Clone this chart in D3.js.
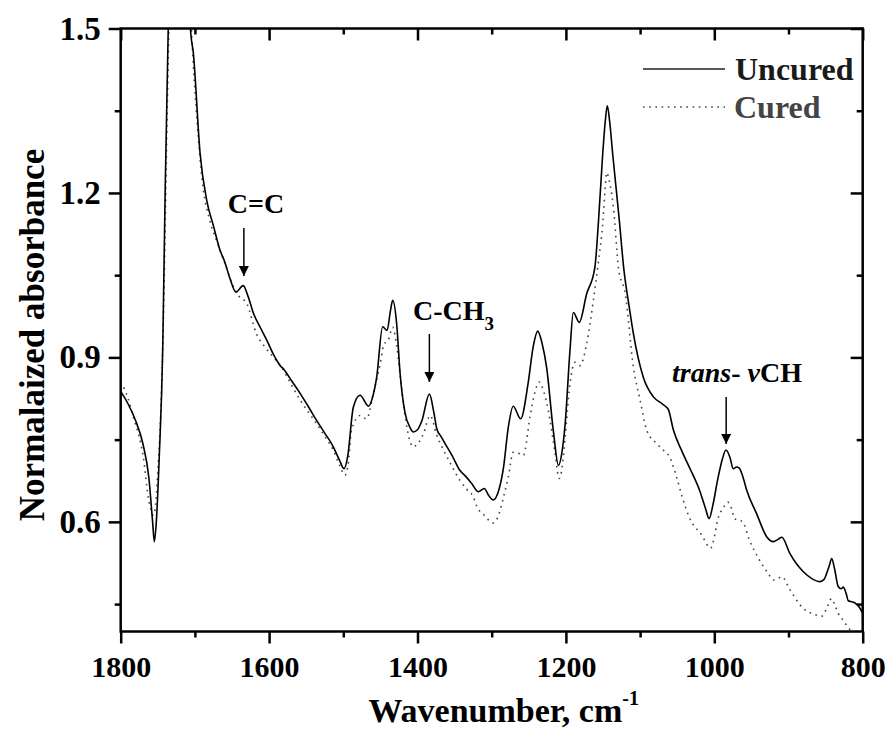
<!DOCTYPE html>
<html>
<head>
<meta charset="utf-8">
<script src="https://cdn.jsdelivr.net/npm/d3@7"></script>
<style>
  html, body { margin: 0; padding: 0; background: #fff; }
  svg { display: block; }
  text { font-family: "Liberation Serif", "Times New Roman", serif; font-weight: bold; }
</style>
</head>
<body>
<svg id="chart" width="889" height="732"></svg>
<script>
// ---- Data ----
const xTicks = [1800, 1600, 1400, 1200, 1000, 800];
const xMinorTicks = [1700, 1500, 1300, 1100, 900];
const yTicks = [0.6, 0.9, 1.2, 1.5];
const yMinorTicks = [0.45, 0.75, 1.05, 1.35];

const uncuredWn = [1800,1790,1780,1770,1762,1757,1754.7,1752,1748,1743.4,1740,1736,1730,1724,1716,1710,1706,1702,1693,1684,1675,1666,1660,1653,1644.6,1635,1628,1621,1612,1603,1594,1585,1580,1570,1558,1547,1536,1525,1513.5,1505,1499,1494,1486.5,1477.5,1466,1460,1455,1447,1441,1436.5,1433.4,1428,1423.6,1417,1410,1405.7,1400,1394,1384,1378,1374,1368,1363,1353,1343,1335,1327,1318,1310,1304,1298,1290,1284,1277.6,1271,1261,1251,1244,1238,1232,1226,1217,1210,1205,1201,1194.5,1190,1182,1172,1161,1156,1150.4,1147,1144.2,1141,1137,1128,1122,1115,1109,1095.7,1082,1070,1062,1055,1044,1032,1020,1012,1007,1002,995.6,989,984.3,979,974.5,970,966.3,961,956.4,943,929.4,920.5,914,909,898,889,880,869,857.6,852,848.6,845,841.8,838,833,829,826.2,822,819.5,814,810.5,805,800];
const uncuredAbs = [0.838,0.815,0.785,0.742,0.680,0.600,0.564,0.600,0.720,0.913,1.21,1.496,1.85,2.0,1.9,1.65,1.50,1.454,1.272,1.186,1.14,1.095,1.075,1.045,1.019,1.031,1.010,0.980,0.955,0.931,0.905,0.885,0.878,0.858,0.834,0.810,0.785,0.762,0.737,0.712,0.697,0.720,0.809,0.831,0.811,0.830,0.864,0.956,0.949,0.985,1.004,0.96,0.873,0.800,0.772,0.764,0.768,0.785,0.833,0.800,0.770,0.755,0.743,0.720,0.694,0.683,0.670,0.655,0.661,0.648,0.640,0.660,0.700,0.773,0.811,0.788,0.852,0.920,0.948,0.925,0.882,0.767,0.703,0.730,0.779,0.913,0.982,0.964,1.016,1.064,1.150,1.271,1.33,1.359,1.33,1.272,1.150,1.062,0.995,0.943,0.864,0.828,0.815,0.805,0.767,0.730,0.695,0.658,0.625,0.606,0.630,0.676,0.715,0.731,0.718,0.697,0.700,0.698,0.680,0.658,0.615,0.573,0.564,0.568,0.572,0.542,0.523,0.509,0.497,0.491,0.495,0.506,0.520,0.533,0.515,0.482,0.478,0.481,0.468,0.456,0.454,0.452,0.445,0.433];

const curedWn = [1800,1790,1783,1775,1769.5,1763,1758,1756,1753,1750.7,1746,1742,1738,1735,1728,1722,1714,1708,1704,1697,1690,1680,1670,1659.4,1650,1641.5,1630,1617,1605,1594,1583,1570,1558,1547,1536,1525,1513.5,1505,1497.7,1493,1489,1477.5,1468.5,1459.6,1450,1445,1440,1433.4,1428,1421,1414,1405.7,1400,1392,1383,1374,1365,1355,1343,1334,1325,1320,1310,1298,1290,1284,1277.6,1271,1264,1257.4,1248.4,1242,1236,1230,1223.7,1215,1209,1205,1201,1194.5,1187.8,1181,1172,1163,1156,1150,1147,1145,1142,1136,1129,1120,1109,1100,1091,1078,1068,1060,1051,1042,1034,1017,1005,1000,995.6,988,981.9,977,972.8,967,961.7,952.7,939,927.5,920.5,914,909,898,880,867,855,848.6,842,838,833,826,822,815,808,800];
const curedAbs = [0.855,0.825,0.791,0.755,0.718,0.646,0.618,0.612,0.630,0.676,0.80,1.0,1.30,1.50,1.8,1.9,1.8,1.6,1.48,1.33,1.22,1.15,1.11,1.071,1.035,1.013,0.998,0.943,0.918,0.900,0.882,0.850,0.822,0.800,0.779,0.756,0.731,0.703,0.685,0.710,0.767,0.794,0.788,0.834,0.890,0.925,0.930,0.955,0.920,0.840,0.770,0.737,0.742,0.761,0.794,0.758,0.731,0.705,0.676,0.660,0.646,0.628,0.612,0.598,0.615,0.646,0.682,0.727,0.725,0.721,0.791,0.835,0.855,0.838,0.803,0.730,0.679,0.700,0.755,0.852,0.891,0.885,0.925,1.004,1.077,1.150,1.210,1.237,1.225,1.174,1.062,1.016,0.882,0.822,0.767,0.743,0.730,0.718,0.682,0.640,0.609,0.576,0.552,0.572,0.603,0.625,0.636,0.625,0.606,0.603,0.600,0.567,0.530,0.506,0.494,0.497,0.500,0.476,0.442,0.432,0.428,0.442,0.460,0.450,0.433,0.420,0.412,0.400,0.385,0.370];

const seriesNames = ["Uncured", "Cured"];
const xTitle = "Wavenumber, cm";
const yTitle = "Normalaized absorbance";

// ---- Layout ----
const svg = d3.select("#chart");
const L = 120.7, R = 862.7, T = 28.5, B = 631.5;
const x = d3.scaleLinear().domain([1800, 800]).range([L, R]);
const y = d3.scaleLinear().domain([0.4, 1.5]).range([B, T]);
const FONT = "'Liberation Serif', 'Times New Roman', serif";

svg.append("defs").append("clipPath").attr("id", "plotclip")
  .append("rect").attr("x", L).attr("y", T).attr("width", R - L).attr("height", B - T);

// Curves
const line = d3.line().x(d => x(d[0])).y(d => y(d[1])).curve(d3.curveMonotoneX);
const uncured = uncuredWn.map((w, i) => [w, uncuredAbs[i]]);
const cured = curedWn.map((w, i) => [w, curedAbs[i]]);
const plot = svg.append("g").attr("clip-path", "url(#plotclip)");
plot.append("path").datum(cured).attr("d", line)
  .attr("fill", "none").attr("stroke", "#444").attr("stroke-width", 1.6)
  .attr("stroke-dasharray", "1.6,4.6");
plot.append("path").datum(uncured).attr("d", line)
  .attr("fill", "none").attr("stroke", "#000").attr("stroke-width", 1.6);

// Axes
function styleAxis(size) {
  return g => {
    g.select(".domain").remove();
    g.selectAll(".tick line").attr("stroke", "#000").attr("stroke-width", 2.5);
    g.selectAll(".tick text").attr("fill", "#000").style("font-family", FONT)
      .style("font-weight", "bold").style("font-size", size + "px");
  };
}
svg.append("g").attr("transform", `translate(0,${B})`)
  .call(d3.axisBottom(x).tickValues(xTicks).tickSize(12).tickPadding(12).tickFormat(d3.format("d")))
  .call(styleAxis(30));
svg.append("g").attr("transform", `translate(0,${B})`)
  .call(d3.axisBottom(x).tickValues(xMinorTicks).tickSize(6).tickFormat(""))
  .call(styleAxis(30));
svg.append("g").attr("transform", `translate(0,${T})`)
  .call(d3.axisBottom(x).tickValues(xTicks).tickSize(12).tickFormat(""))
  .call(styleAxis(30));
svg.append("g").attr("transform", `translate(0,${T})`)
  .call(d3.axisBottom(x).tickValues(xMinorTicks).tickSize(6).tickFormat(""))
  .call(styleAxis(30));
svg.append("g").attr("transform", `translate(${L},0)`)
  .call(d3.axisLeft(y).tickValues(yTicks).tickSize(12).tickPadding(8).tickFormat(d3.format(".1f")))
  .call(styleAxis(33));
svg.append("g").attr("transform", `translate(${L},0)`)
  .call(d3.axisLeft(y).tickValues(yMinorTicks).tickSize(6).tickFormat(""))
  .call(styleAxis(30));
svg.append("g").attr("transform", `translate(${R},0)`)
  .call(d3.axisLeft(y).tickValues(yTicks).tickSize(12).tickFormat(""))
  .call(styleAxis(30));
svg.append("g").attr("transform", `translate(${R},0)`)
  .call(d3.axisLeft(y).tickValues(yMinorTicks).tickSize(6).tickFormat(""))
  .call(styleAxis(30));

// Frame
svg.append("rect").attr("x", L).attr("y", T).attr("width", R - L).attr("height", B - T)
  .attr("fill", "none").attr("stroke", "#000").attr("stroke-width", 2.5);

// Axis titles
const xt = svg.append("text").attr("x", (L + R) / 2 + 12).attr("y", 722)
  .attr("text-anchor", "middle").style("font-size", "34px").attr("fill", "#000");
xt.append("tspan").text(xTitle);
xt.append("tspan").attr("dy", -17).style("font-size", "20px").text("-1");

svg.append("text").attr("transform", `translate(44,${(T + B) / 2 + 5}) rotate(-90)`)
  .attr("text-anchor", "middle").style("font-size", "35px").attr("fill", "#000")
  .text(yTitle);

// Legend
const lg = svg.append("g");
lg.append("line").attr("x1", 643).attr("x2", 725).attr("y1", 69).attr("y2", 69)
  .attr("stroke", "#222").attr("stroke-width", 1.6);
lg.append("text").attr("x", 735).attr("y", 80).style("font-size", "32px").attr("fill", "#1a1a1a").text(seriesNames[0]);
lg.append("line").attr("x1", 643).attr("x2", 725).attr("y1", 107).attr("y2", 107)
  .attr("stroke", "#444").attr("stroke-width", 1.6).attr("stroke-dasharray", "1.6,4.6");
lg.append("text").attr("x", 734).attr("y", 118).style("font-size", "32px").attr("fill", "#444").text(seriesNames[1]);

// Annotations
const defs = svg.select("defs");
defs.append("marker").attr("id", "arrow").attr("viewBox", "0 0 10 10")
  .attr("refX", 10).attr("refY", 5).attr("markerWidth", 10).attr("markerHeight", 10)
  .attr("markerUnits", "userSpaceOnUse").attr("orient", "auto")
  .append("path").attr("d", "M0,0 L10,5 L0,10 Z").attr("fill", "#000");

function arrow(wn, y1, y2) {
  svg.append("line").attr("x1", x(wn)).attr("x2", x(wn)).attr("y1", y1).attr("y2", y2)
    .attr("stroke", "#000").attr("stroke-width", 1.5).attr("marker-end", "url(#arrow)");
}
// C=C
svg.append("text").attr("x", 256).attr("y", 213).attr("text-anchor", "middle")
  .style("font-size", "28px").attr("fill", "#000").text("C=C");
arrow(1634, 228, 276);
// C-CH3
const cch = svg.append("text").attr("x", 413).attr("y", 320).style("font-size", "28px").attr("fill", "#000");
cch.append("tspan").text("C-CH");
cch.append("tspan").attr("dy", 10).style("font-size", "19px").text("3");
arrow(1384, 334, 382);
// trans- vCH
const tr = svg.append("text").attr("x", 672).attr("y", 382).style("font-size", "28px").attr("fill", "#000");
tr.append("tspan").style("font-style", "italic").text("trans");
tr.append("tspan").text("- ");
tr.append("tspan").style("font-style", "italic").text("v");
tr.append("tspan").text("CH");
arrow(984, 397, 444);
</script>
</body>
</html>
